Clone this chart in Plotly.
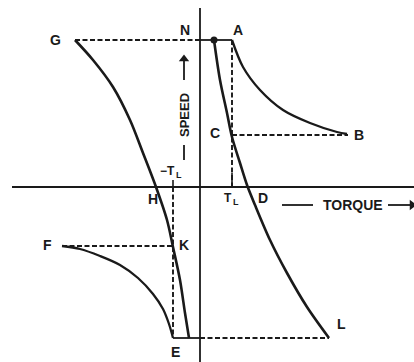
import plotly.graph_objects as go

# Speed-torque characteristics of a motor in four quadrants (units: arbitrary)
N_SPEED = 147          # no-load speed N
E_SPEED = -151         # reverse speed E
TL = 32                # load torque T_L
NEG_TL = -27           # -T_L

# Steep characteristic through N, C, D down to L
curve1_torque = [14, 20, 27, 32, 40, 47, 55, 70, 87, 107, 129]
curve1_speed = [147, 107, 74, 50, 24, 2, -18, -53, -86, -120, -151]

# Steep characteristic from G through H, K down to E
curve2_torque = [-125, -107, -87, -70, -57, -44, -33, -27, -20, -15, -11]
curve2_speed = [147, 127, 100, 67, 34, 0, -33, -60, -93, -126, -151]

# Load curve A -> B
ab_torque = [32, 43, 60, 83, 110, 137, 147]
ab_speed = [147, 120, 97, 77, 64, 55, 53]

# Load curve F -> E
fe_torque = [-138, -120, -100, -80, -62, -47, -37, -31, -27]
fe_speed = [-59, -62, -69, -78, -91, -107, -122, -137, -151]

C_SPEED = 52
K_SPEED = -59
B_TORQUE = 148
F_TORQUE = -138
G_TORQUE = -125
L_TORQUE = 129

labels = ["G", "N", "A", "B", "C", "H", "D", "F", "K", "E", "L"]
label_x = [-145, -15, 38, 159, 15, -47, 63, -153, -16, -25, 141]
label_y = [147, 157, 157, 52, 54, -12, -11, -58, -58, -165, -137]

INK = "#1a1a1a"
fig = go.Figure()


def solid(x, y, w=2.6, shape="spline"):
    fig.add_trace(go.Scatter(x=x, y=y, mode="lines",
                             line=dict(color=INK, width=w, shape=shape, smoothing=0.9),
                             hoverinfo="skip", showlegend=False))


def dashed(x, y, w=1.9):
    fig.add_trace(go.Scatter(x=x, y=y, mode="lines",
                             line=dict(color=INK, width=w, dash="5px,2.5px"),
                             hoverinfo="skip", showlegend=False))


def arrow_head(x, y, symbol, size=9):
    fig.add_trace(go.Scatter(x=[x], y=[y], mode="markers",
                             marker=dict(color=INK, size=size, symbol=symbol),
                             hoverinfo="skip", showlegend=False))


def label(x, y, text, size=14):
    fig.add_annotation(x=x, y=y, text="<b>%s</b>" % text, showarrow=False,
                       font=dict(family="Liberation Sans", size=size, color=INK))


# axes
solid([-188, 214], [0, 0], w=1.8, shape="linear")
solid([0, 0], [179, -175], w=1.8, shape="linear")

# construction lines
dashed([G_TORQUE, 0], [N_SPEED, N_SPEED])
solid([0, TL], [N_SPEED, N_SPEED], w=1.8, shape="linear")
dashed([TL, TL], [N_SPEED, 0])
solid([TL, TL], [0, 14], w=1.6, shape="linear")
dashed([TL, B_TORQUE], [C_SPEED, C_SPEED])
dashed([NEG_TL, NEG_TL], [0, E_SPEED])
solid([NEG_TL, NEG_TL], [0, 7], w=1.6, shape="linear")
dashed([F_TORQUE, NEG_TL], [K_SPEED, K_SPEED])
solid([NEG_TL, 0], [E_SPEED, E_SPEED], w=1.8, shape="linear")
dashed([0, L_TORQUE], [E_SPEED, E_SPEED])

# characteristics
solid(curve1_torque, curve1_speed)
solid(curve2_torque, curve2_speed)
solid(ab_torque, ab_speed, w=2.3)
solid(fe_torque, fe_speed, w=2.3)

fig.add_trace(go.Scatter(x=[14], y=[147], mode="markers",
                         marker=dict(color=INK, size=7),
                         hoverinfo="skip", showlegend=False))

for t, x, y in zip(labels, label_x, label_y):
    label(x, y, t)

# -T_L and T_L, with the L drawn as a small lowered letter
label(-33, 16, "−T", size=12)
label(-21, 12, "L", size=9)
label(28, -11, "T", size=12)
label(36, -15, "L", size=9)

# SPEED label with arrow
fig.add_annotation(x=-16, y=72, text="<b>SPEED</b>", textangle=-90, showarrow=False,
                   font=dict(family="Liberation Sans", size=13, color=INK))
solid([-16, -16], [107, 126], w=1.8, shape="linear")
arrow_head(-16, 128, "triangle-up", size=9)
solid([-16, -16], [42, 27], w=1.8, shape="linear")

# TORQUE label with arrow
label(153, -18, "TORQUE")
solid([82, 113], [-18, -18], w=1.8, shape="linear")
solid([188, 210], [-18, -18], w=1.8, shape="linear")
arrow_head(212, -18, "triangle-right", size=9)

fig.update_layout(
    width=414, height=362,
    margin=dict(l=0, r=0, t=0, b=0),
    paper_bgcolor="white", plot_bgcolor="white",
    xaxis=dict(range=[-200, 214], visible=False, fixedrange=True),
    yaxis=dict(range=[-175, 187], visible=False, fixedrange=True),
)

fig.write_html("out.html")
